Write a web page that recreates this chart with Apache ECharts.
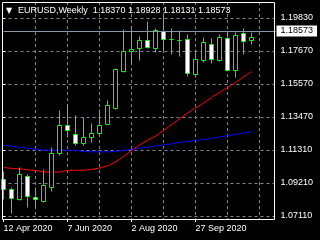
<!DOCTYPE html>
<html>
<head>
<meta charset="utf-8">
<script src="https://cdn.jsdelivr.net/npm/echarts@6/dist/echarts.min.js"></script>
<style>
html,body{margin:0;padding:0;background:#000;overflow:hidden;}
#c{width:320px;height:240px;}
</style>
</head>
<body>
<div id="c"></div>
<script>
const symbolName = 'EURUSD,Weekly';
const weeks = ['12 Apr 2020','19 Apr 2020','26 Apr 2020','3 May 2020','10 May 2020','17 May 2020','24 May 2020','31 May 2020',
  '7 Jun 2020','14 Jun 2020','21 Jun 2020','28 Jun 2020','5 Jul 2020','12 Jul 2020','19 Jul 2020','26 Jul 2020',
  '2 Aug 2020','9 Aug 2020','16 Aug 2020','23 Aug 2020','30 Aug 2020','6 Sep 2020','13 Sep 2020','20 Sep 2020',
  '27 Sep 2020','4 Oct 2020','11 Oct 2020','18 Oct 2020','25 Oct 2020','1 Nov 2020','8 Nov 2020','15 Nov 2020',
  '22 Nov 2020','29 Nov 2020','6 Dec 2020'];
const opens  = [1.0943,1.0879,1.0819,1.0967,1.0828,1.0806,1.0896,1.1114,1.1294,1.1234,1.1176,1.1215,1.1240,1.1298,1.1403,1.1638,
  1.1767,1.1789,1.1837,1.1789,1.1895,1.1843,1.1839,1.1842,1.1619,1.1709,1.1814,1.1713,1.1853,1.1645,1.1885,1.18370];
const highs  = [1.0996,1.0896,1.1020,1.0980,1.0896,1.1007,1.1148,1.1386,1.1429,1.1354,1.1343,1.1303,1.1392,1.1450,1.1656,1.1906,
  1.1927,1.1867,1.1962,1.1917,1.2012,1.1917,1.1900,1.1874,1.1778,1.1857,1.1853,1.1880,1.1891,1.1891,1.1917,1.18928];
const lows   = [1.0815,1.0729,1.0810,1.0768,1.0760,1.0797,1.0868,1.1099,1.1213,1.1166,1.1161,1.1185,1.1238,1.1296,1.1397,1.1636,
  1.1688,1.1709,1.1789,1.1760,1.1773,1.1746,1.1735,1.1606,1.1602,1.1699,1.1688,1.1701,1.1638,1.1600,1.1746,1.18131];
const closes = [1.0879,1.0826,1.0977,1.0836,1.0820,1.0904,1.1110,1.1290,1.1260,1.1179,1.1217,1.1243,1.1292,1.1423,1.1654,1.1767,
  1.1782,1.1837,1.1795,1.1904,1.1842,1.1847,1.1836,1.1628,1.1718,1.1827,1.1718,1.1859,1.1645,1.1872,1.1833,1.18573];
const maRed  = [1.1023,1.1016,1.1014,1.1007,1.1004,1.0994,1.0992,1.0994,1.1004,1.1005,1.1005,1.1010,1.1020,1.1033,1.1059,1.1094,
  1.1132,1.1168,1.1197,1.1225,1.1261,1.1299,1.1335,1.1373,1.1405,1.1437,1.1473,1.1505,1.1537,1.1569,1.1604,1.1640];
const maBlue = [1.1166,1.1159,1.1153,1.1147,1.1140,1.1134,1.1134,1.1134,1.1134,1.1132,1.1126,1.1123,1.1123,1.1123,1.1127,1.1132,
  1.1139,1.1147,1.1153,1.1161,1.1168,1.1174,1.1184,1.1189,1.1197,1.1203,1.1209,1.1219,1.1227,1.1235,1.1245,1.1253];
const yTickLabels = ['1.07110','1.09210','1.11310','1.13470','1.15570','1.17670','1.19830'];

const FONT = 'Liberation Sans';
const GRIDC = '#778899';
const LIME = '#00ff00';
const n = opens.length;
const last = n - 1;
const fmt = v => v.toFixed(5);
const candleData = opens.map((o, i) => [i, o, closes[i], lows[i], highs[i]]);
const titleText = '{t|▼}' + symbolName + '  ' + [opens[last], highs[last], lows[last], closes[last]].map(fmt).join(' ');

const crisp = v => Math.round(v - 0.5) + 0.5;

function renderCandle(params, api) {
  const idx = api.value(0);
  const o = api.value(1), c = api.value(2), l = api.value(3), h = api.value(4);
  const pO = api.coord([idx, o]);
  const pC = api.coord([idx, c]);
  const pL = api.coord([idx, l]);
  const pH = api.coord([idx, h]);
  const xc = crisp(pO[0]);
  const yTop = crisp(Math.min(pO[1], pC[1]));
  const yBot = crisp(Math.max(pO[1], pC[1]));
  const bull = c >= o;
  return {
    type: 'group',
    children: [
      {type: 'line', shape: {x1: xc, y1: crisp(pH[1]), x2: xc, y2: crisp(pL[1])},
        style: {stroke: LIME, lineWidth: 1}},
      {type: 'rect', shape: {x: xc - 2, y: yTop, width: 4, height: Math.max(0, yBot - yTop)},
        style: {fill: bull ? '#000000' : '#ffffff', stroke: LIME, lineWidth: 1}}
    ]
  };
}

const chart = echarts.init(document.getElementById('c'), null, {renderer: 'canvas'});
chart.setOption({
  backgroundColor: '#000',
  animation: false,
  title: {
    text: titleText, left: 6, top: 6, padding: 0,
    textStyle: {color: '#fff', fontFamily: FONT, fontSize: 9, fontWeight: 'normal',
      rich: {t: {fontSize: 8, color: '#fff', width: 12, fontFamily: 'DejaVu Sans'}}}
  },
  grid: [
    {left: 3.5, top: 2, width: 272, height: 217, show: false},
    {left: 2.5, top: 18, width: 272, height: 198, show: false},
    {left: 2.5, top: 2.5, width: 272, height: 217, show: true, borderColor: '#fff', borderWidth: 1, backgroundColor: 'transparent', z: 10}
  ],
  xAxis: [
    {gridIndex: 0, type: 'category', data: weeks, boundaryGap: false,
      axisLine: {show: false},
      axisTick: {show: true, length: 3, interval: (i) => i % 8 === 0 && i < n, lineStyle: {color: '#fff'}},
      axisLabel: {interval: (i) => i % 8 === 0 && i < n, align: 'left', color: '#fff', fontFamily: FONT, fontSize: 9, margin: 5},
      splitLine: {show: true, interval: (i) => i % 4 === 0 && i > 0, lineStyle: {color: GRIDC, type: [3, 3], width: 1}}},
    {gridIndex: 1, type: 'value', show: false}
  ],
  yAxis: [
    {gridIndex: 0, type: 'value', min: 1.06917, max: 1.20858, show: false, splitLine: {show: false}},
    {gridIndex: 1, type: 'value', position: 'right', min: 0, max: 6, interval: 1,
      axisLine: {show: false},
      axisTick: {show: true, length: 3, lineStyle: {color: '#fff'}},
      axisLabel: {formatter: (v) => yTickLabels[v], color: '#fff', fontFamily: FONT, fontSize: 9, margin: 6},
      splitLine: {show: true, lineStyle: {color: GRIDC, type: [3, 3], width: 1}}}
  ],
  series: [
    {type: 'line', xAxisIndex: 0, yAxisIndex: 0, data: maBlue, symbol: 'none', smooth: false,
      lineStyle: {color: '#0000ff', width: 1}, z: 2},
    {type: 'line', xAxisIndex: 0, yAxisIndex: 0, data: maRed, symbol: 'none', smooth: false,
      lineStyle: {color: '#ff0000', width: 1}, z: 2},
    {type: 'custom', xAxisIndex: 0, yAxisIndex: 0, data: candleData, renderItem: renderCandle, clip: false, z: 3,
      encode: {x: 0, y: [1, 2, 3, 4]},
      markLine: {silent: true, symbol: 'none', animation: false,
        lineStyle: {color: '#8796a5', type: 'solid', width: 1},
        label: {show: true, position: 'end', distance: 1, formatter: () => fmt(closes[last]),
          backgroundColor: '#fff', color: '#000', fontFamily: FONT, fontSize: 9, padding: [1, 4, 1, 4]},
        data: [{yAxis: closes[last]}]}}
  ]
});
</script>
</body>
</html>
